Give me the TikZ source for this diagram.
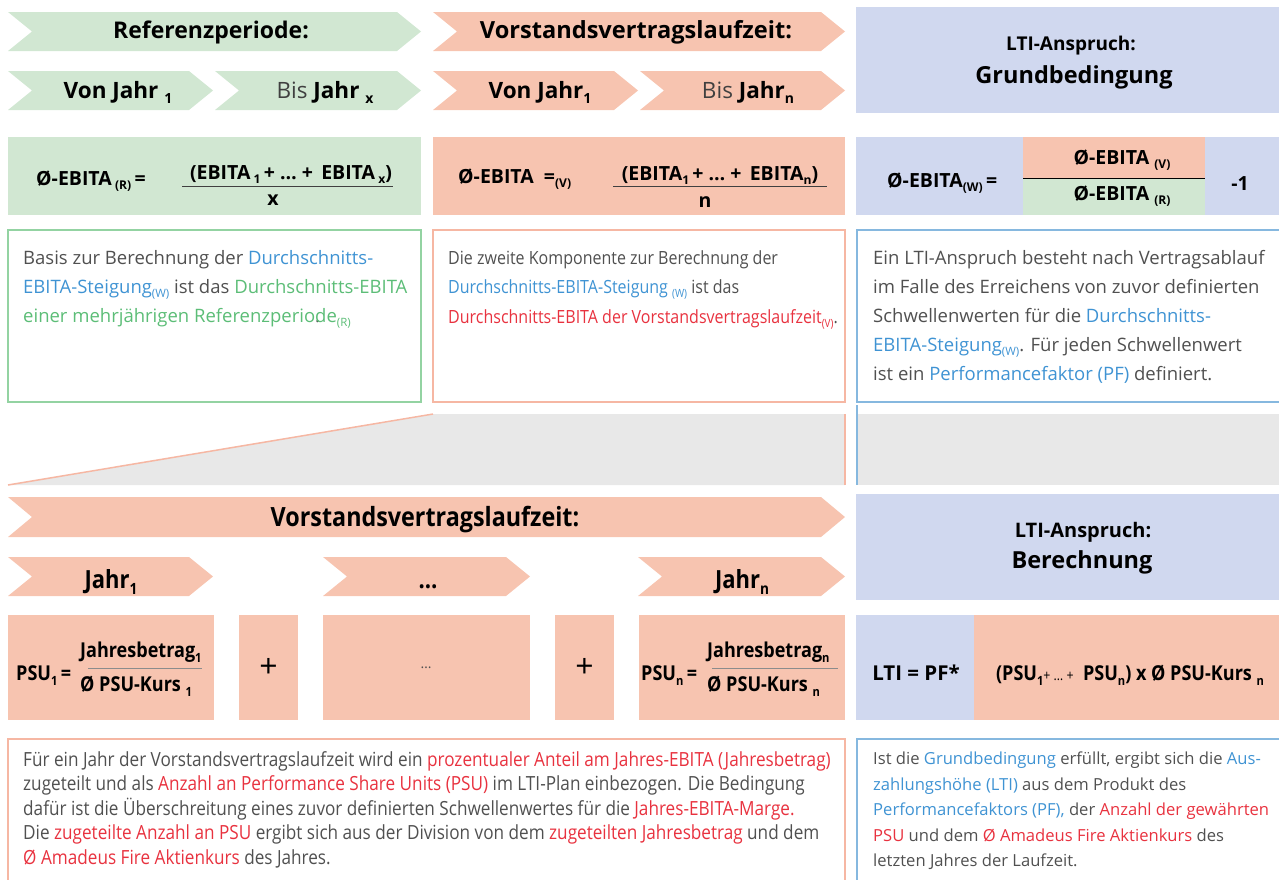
\documentclass[tikz,border=0pt]{standalone}
\usepackage{fontspec}
\usepackage{graphicx}
\setmainfont{Open Sans}
\newfontfamily\narrowfont[FakeStretch=0.88]{Open Sans}

\definecolor{grnfill}{HTML}{D1E7D2}
\definecolor{salfill}{HTML}{F7C4B0}
\definecolor{blufill}{HTML}{D0D8EF}
\definecolor{grnline}{HTML}{93D3A2}
\definecolor{salline}{HTML}{F6B7A3}
\definecolor{bluline}{HTML}{86B8DF}
\definecolor{gapgrey}{HTML}{E8E8E8}
\definecolor{txtgrey}{HTML}{505050}
\definecolor{txtblue}{HTML}{3F93D3}
\definecolor{txtgreen}{HTML}{5CBD77}
\definecolor{txtred}{HTML}{E8323F}

% lowered index, e.g. Jahr_1
\newcommand{\idx}[1]{\raisebox{-0.45ex}{\scalebox{0.62}{#1}}}
% coloured runs inside the notes
\newcommand{\tblue}[1]{\textcolor{txtblue}{#1}}
\newcommand{\tgreen}[1]{\textcolor{txtgreen}{#1}}
\newcommand{\tred}[1]{\textcolor{txtred}{#1}}
% chevron: left, top, right, bottom, fill
\newcommand{\chevron}[5]{%
  \fill[#5] (#1,#2) -- ({#3-24},#2) -- (#3,{(#2+#4)/2}) -- ({#3-24},#4)
    -- (#1,#4) -- ({#1+24},{(#2+#4)/2}) -- cycle}

\begin{document}
\begin{tikzpicture}[x=1pt, y=-1pt,
  head/.style={font=\bfseries\fontsize{23}{27}\selectfont, anchor=base, inner sep=0},
  formula/.style={font=\bfseries\fontsize{19.5}{23}\selectfont, inner sep=0},
  psuform/.style={font=\narrowfont\bfseries\fontsize{20.5}{24}\selectfont, inner sep=0},
  bodytext/.style={align=left, anchor=north west, inner sep=0, text=txtgrey},
  outline/.style={line width=1.5pt},
  fracline/.style={line width=0.8pt, black!75}
]
\useasboundingbox (0,0) rectangle (1279,879);

%% ── Upper half: Grundbedingung ───────────────────────────────────────────────

% Reference period (green)
\chevron{8}{12}{421}{51}{grnfill};
\node[head] (refhead) at (211,38) {Referenzperiode:};
\chevron{8}{71}{213}{110}{grnfill};
\node[head, font=\bfseries\fontsize{22.5}{26}\selectfont] (refvon) at (118,98) {Von Jahr \idx{1}};
\chevron{215}{71}{421}{110}{grnfill};
\node[head, font=\bfseries\fontsize{22.5}{26}\selectfont] (refbis) at (325,98) {{\mdseries\color{black!75}Bis} Jahr \idx{x}};

% Contract term (salmon)
\chevron{433}{12}{845}{51}{salfill};
\node[head, font=\bfseries\fontsize{23.6}{27}\selectfont] (vvlhead) at (636,38) {Vorstandsvertragslaufzeit:};
\chevron{433}{71}{638}{110}{salfill};
\node[head, font=\bfseries\fontsize{22.5}{26}\selectfont] (vvlvon) at (540,98) {Von Jahr\idx{1}};
\chevron{640}{71}{845}{110}{salfill};
\node[head, font=\bfseries\fontsize{22.5}{26}\selectfont] (vvlbis) at (748,98) {{\mdseries\color{black!75}Bis} Jahr\idx{n}};

% LTI claim header (blue)
\fill[blufill] (856,7) rectangle (1279,113);
\node[head, font=\bfseries\fontsize{19}{23}\selectfont] (ltihead) at (1071,50) {LTI-Anspruch:};
\node[head, font=\bfseries\fontsize{23.5}{28}\selectfont] (grundhead) at (1074,83) {Grundbedingung};

% Formula row
\fill[grnfill] (8,137) rectangle (421,215);
\node[formula, anchor=base west] (ebitaR) at (36,185) {Ø-EBITA\,\idx{(R)}\,=};
\node[formula, anchor=base] (numR) at (291,179) {(EBITA\,\idx{1}\,+ … +\, EBITA\,\idx{x})};
\draw[fracline] (182,186) -- (393,186);
\node[formula, anchor=base] (denR) at (273,205) {x};

\fill[salfill] (433,137) rectangle (845,215);
\node[formula, anchor=base west] (ebitaV) at (458,183) {Ø-EBITA\ \ =\idx{(V)}};
\node[formula, anchor=base] (numV) at (720,180) {(EBITA\idx{1}\,+ … +\, EBITA\idx{n})};
\draw[fracline] (613,186) -- (827,186);
\node[formula, anchor=base] (denV) at (705,207) {n};

\fill[blufill] (856,137) rectangle (1279,215);
\fill[salfill] (1023,137) rectangle (1205,178);
\fill[grnfill] (1023,178) rectangle (1205,215);
\draw[line width=0.8pt] (1023,178) -- (1205,178);
\node[formula, anchor=base west] (ebitaW) at (887,187) {Ø-EBITA\idx{(W)}\,=};
\node[formula, anchor=base] (ebitaWV) at (1122,164) {Ø-EBITA \idx{(V)}};
\node[formula, anchor=base] (ebitaWR) at (1122,200) {Ø-EBITA \idx{(R)}};
\node[formula, anchor=base] (minusone) at (1240,190) {-1};

% Notes
\draw[grnline, outline] (8,230) rectangle (421,402);
\node[bodytext, font=\fontsize{18.5}{29}\selectfont] (refnote) at (23,250) {%
  Basis zur Berechnung der \tblue{Durchschnitts-}\\
  \tblue{EBITA-Steigung\idx{(W)}} ist das \tgreen{Durchschnitts-EBITA}\\
  \tgreen{einer mehrjährigen Referenzperio\rlap{\textcolor{txtgrey}{.}}de\idx{(R)}}};

\draw[salline, outline] (433,230) rectangle (845,402);
\node[bodytext, font=\narrowfont\fontsize{18.2}{29.5}\selectfont] (vvlnote) at (448,250) {%
  Die zweite Komponente zur Berechnung der\\
  \tblue{Durchschnitts-EBITA-Steigung \idx{(W)}} ist das\\
  \tred{Durchschnitts-EBITA der Vorstandsvertragslaufzeit\idx{(V)}}.};

\draw[bluline, outline] (857,230) rectangle (1290,402);
\node[bodytext, font=\fontsize{18.5}{29}\selectfont] (grundnote) at (873,250) {%
  Ein LTI-Anspruch besteht nach Vertragsablauf\\
  im Falle des Erreichens von zuvor definierten\\
  Schwellenwerten für die \tblue{Durchschnitts-}\\
  \tblue{EBITA-Steigung\idx{(W)}}. Für jeden Schwellenwert\\
  ist ein \tblue{Performancefaktor (PF)} definiert.};

%% ── Zoom wedge ───────────────────────────────────────────────────────────────
\fill[gapgrey] (433,414) -- (845,414) -- (845,485) -- (8,485) -- cycle;
\draw[salline, outline] (8,485) -- (433,414);
\draw[salline, outline] (845,414) -- (845,485);
\fill[gapgrey] (857,414) rectangle (1279,485);
\draw[bluline, outline] (857,405) -- (857,485);

%% ── Lower half: Berechnung ───────────────────────────────────────────────────

\chevron{8}{497}{845}{537}{salfill};
\node[head, font=\narrowfont\bfseries\fontsize{26.5}{30}\selectfont] (vvlhead2) at (425,526) {Vorstandsvertragslaufzeit:};
\chevron{8}{557}{213}{596}{salfill};
\node[head, font=\narrowfont\bfseries\fontsize{25}{29}\selectfont] (jahrA) at (111,588) {Jahr\idx{1}};
\chevron{323}{557}{530}{596}{salfill};
\node[head, font=\narrowfont\bfseries\fontsize{25}{29}\selectfont] (jahrDots) at (428,588) {…};
\chevron{638}{557}{845}{596}{salfill};
\node[head, font=\narrowfont\bfseries\fontsize{25}{29}\selectfont] (jahrN) at (742,588) {Jahr\idx{n}};

\fill[blufill] (856,494) rectangle (1279,600);
\node[head, font=\bfseries\fontsize{20}{24}\selectfont] (ltihead2) at (1083,537) {LTI-Anspruch:};
\node[head, font=\bfseries\fontsize{23.5}{28}\selectfont] (berechhead) at (1082,568) {Berechnung};

% PSU row
\fill[salfill] (8,615) rectangle (214,720);
\node[psuform, anchor=base west] (psuA) at (16,680) {PSU\idx{1}\,=};
\node[psuform, anchor=base west] (jbA) at (80,657) {Jahresbetrag\idx{1}};
\draw[fracline, black!45] (88,668) -- (202,668);
\node[psuform, anchor=base west] (kursA) at (80,691) {Ø PSU-Kurs \idx{1}};

\fill[salfill] (239,615) rectangle (298,720);
\node[font=\fontsize{32}{36}\selectfont, inner sep=0] (plusA) at (268.5,668) {+};
\fill[salfill] (323,615) rectangle (530,720);
\node[font=\fontsize{14}{16}\selectfont, text=txtgrey, inner sep=0] (psuDots) at (426,668) {…};
\fill[salfill] (555,615) rectangle (614,720);
\node[font=\fontsize{32}{36}\selectfont, inner sep=0] (plusB) at (584.5,668) {+};

\fill[salfill] (639,615) rectangle (845,720);
\node[psuform, anchor=base west] (psuN) at (641,680) {PSU\idx{n}\,=};
\node[psuform, anchor=base west] (jbN) at (707,657) {Jahresbetrag\idx{n}};
\draw[fracline, black!45] (712,668) -- (838,668);
\node[psuform, anchor=base west] (kursN) at (707,691) {Ø PSU-Kurs \idx{n}};

\fill[blufill] (856,615) rectangle (974,720);
\fill[salfill] (974,615) rectangle (1279,720);
\node[head, font=\bfseries\fontsize{20.5}{24}\selectfont] (ltiA) at (916,680) {LTI = PF*};
\node[psuform, anchor=base] (ltiB) at (1130,680) {(PSU\idx{1}{\mdseries\fontsize{14}{16}\selectfont+ … +}\ \ PSU\idx{n}) x Ø PSU-Kurs \idx{n}};

% Notes
\draw[salline, outline] (8,739) rectangle (845,900);
\node[bodytext, font=\narrowfont\fontsize{19.5}{24.5}\selectfont] (psunote) at (23,751) {%
  Für ein Jahr der Vorstandsvertragslaufzeit wird ein \tred{prozentualer Anteil am Jahres-EBITA (Jahresbetrag)}\\
  zugeteilt und als \tred{Anzahl an Performance Share Units (PSU)} im LTI-Plan einbezogen. Die Bedingung\\
  dafür ist die Überschreitung eines zuvor definierten Schwellenwertes für die \tred{Jahres-EBITA-Marge.}\\
  Die \tred{zugeteilte Anzahl an PSU} ergibt sich aus der Division von dem \tred{zugeteilten Jahresbetrag} und dem\\
  \tred{Ø Amadeus Fire Aktienkurs} des Jahres.};

\draw[bluline, outline] (857,739) rectangle (1290,900);
\node[bodytext, font=\fontsize{16.6}{25.5}\selectfont] (ltinote) at (873,752) {%
  Ist die \tblue{Grundbedingung} erfüllt, ergibt sich die \tblue{Aus-}\\
  \tblue{zahlungshöhe (LTI)} aus dem Produkt des\\
  \tblue{Performancefaktors (PF),} der \tred{Anzahl der gewährten}\\
  \tred{PSU} und dem \tred{Ø Amadeus Fire Aktienkurs} des\\
  letzten Jahres der Laufzeit.};

\end{tikzpicture}
\end{document}
